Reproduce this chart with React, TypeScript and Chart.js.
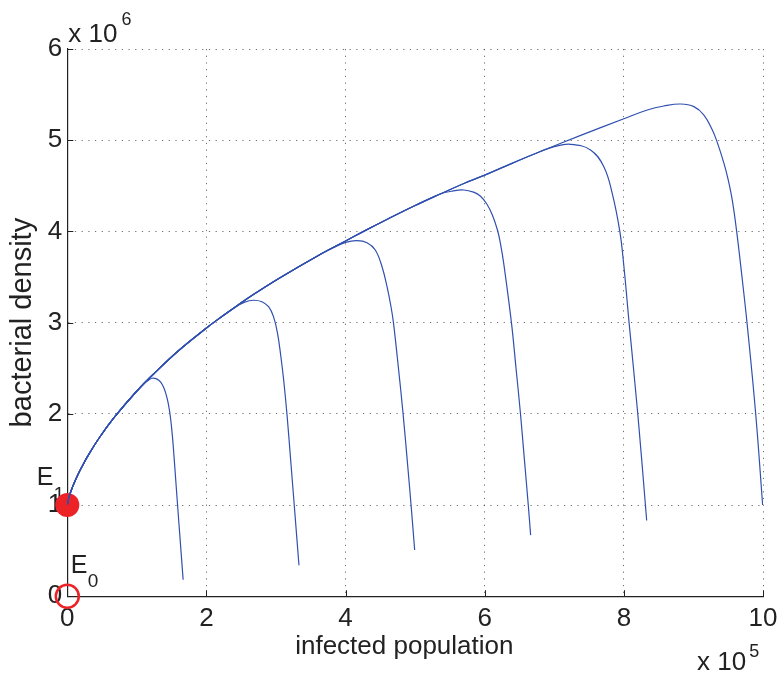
import React, { useEffect, useRef } from "react";
import { Chart, registerables } from "chart.js";

Chart.register(...registerables);

// ---- data (x in units of 1e5, y in units of 1e6) ----
const X_TICKS = [0, 2, 4, 6, 8, 10];
const Y_TICKS = [0, 1, 2, 3, 4, 5, 6];

// common rising branch shared by all trajectories
const ENV_X = [0, 0.01, 0.03, 0.06, 0.1, 0.15, 0.21, 0.3, 0.47, 0.68, 1.0, 1.24, 1.61, 2.0, 2.15, 2.4, 2.68, 3.04, 3.64, 4.0, 4.3, 4.6, 5.0, 5.36, 5.7, 6.0, 6.4, 6.8, 7.37];
const ENV_Y = [1.0, 1.043, 1.1, 1.167, 1.244, 1.33, 1.42, 1.544, 1.748, 1.965, 2.25, 2.437, 2.699, 2.94, 3.027, 3.164, 3.31, 3.484, 3.75, 3.895, 4.017, 4.134, 4.284, 4.41, 4.526, 4.617, 4.749, 4.876, 5.05];

// last shared x value for each trajectory before it turns away
const DEPART_X = [1.0, 2.4, 3.64, 5.36, 6.8, 7.37];

const C1_X = [1.1, 1.17, 1.22, 1.29, 1.345, 1.39, 1.425, 1.452, 1.47, 1.486, 1.5, 1.515, 1.537, 1.585, 1.625, 1.665];
const C1_Y = [2.33, 2.37, 2.39, 2.38, 2.345, 2.28, 2.2, 2.11, 2.03, 1.94, 1.84, 1.72, 1.5, 1.0, 0.59, 0.18];

const C2_X = [2.55, 2.676, 2.797, 2.893, 2.964, 3.022, 3.07, 3.11, 3.157, 3.21, 3.262, 3.33];
const C2_Y = [3.225, 3.245, 3.229, 3.174, 3.065, 2.882, 2.626, 2.37, 2.0, 1.5, 1.0, 0.34];

const C3_X = [3.85, 4.0, 4.164, 4.308, 4.427, 4.524, 4.596, 4.653, 4.688, 4.76, 4.826, 4.885, 4.941, 4.993];
const C3_Y = [3.83, 3.88, 3.898, 3.876, 3.796, 3.613, 3.394, 3.174, 3.0, 2.5, 2.005, 1.5, 1.003, 0.507];

const C4_X = [5.52, 5.698, 5.84, 5.94, 6.03, 6.11, 6.187, 6.23, 6.273, 6.384, 6.45, 6.514, 6.57, 6.626, 6.66];
const C4_Y = [4.44, 4.454, 4.43, 4.385, 4.3, 4.18, 4.004, 3.85, 3.65, 3.0, 2.5, 2.0, 1.5, 1.0, 0.67];

const C5_X = [7.0, 7.233, 7.521, 7.712, 7.833, 7.942, 8.0, 8.075, 8.2, 8.31, 8.328];
const C5_Y = [4.93, 4.955, 4.893, 4.71, 4.418, 4.0, 3.62, 3.0, 2.0, 1.0, 0.83];

const C6_X = [8.0, 8.337, 8.576, 8.816, 9.007, 9.151, 9.272, 9.334, 9.439, 9.5, 9.56, 9.622, 9.703, 9.77, 9.895, 9.995];
const C6_Y = [5.235, 5.331, 5.375, 5.397, 5.368, 5.276, 5.112, 4.995, 4.746, 4.565, 4.335, 3.997, 3.467, 3.0, 2.0, 1.0];

const TAILS_X = [C1_X, C2_X, C3_X, C4_X, C5_X, C6_X];
const TAILS_Y = [C1_Y, C2_Y, C3_Y, C4_Y, C5_Y, C6_Y];

const E1_POINT = { x: 0, y: 1 };
const E0_POINT = { x: 0, y: 0 };

// ---- styles ----
const FONT = '"Liberation Sans", Arial, Helvetica, sans-serif';
const TEXT = "#222222";
const LINE_BLUE = "#3050b0";
const RED = "#ec2227";

function buildCurve(i: number) {
  const pts: { x: number; y: number }[] = [];
  for (let k = 0; k < ENV_X.length; k++) {
    if (ENV_X[k] <= DEPART_X[i]) pts.push({ x: ENV_X[k], y: ENV_Y[k] });
  }
  const tx = TAILS_X[i];
  const ty = TAILS_Y[i];
  for (let k = 0; k < tx.length; k++) pts.push({ x: tx[k], y: ty[k] });
  return pts;
}

const annotPlugin = {
  id: "annot",
  beforeDatasetsDraw(chart: any) {
    const ctx = chart.ctx as CanvasRenderingContext2D;
    const { left, top, right, bottom } = chart.chartArea;
    const xs = chart.scales.x;
    const ys = chart.scales.y;
    ctx.save();
    // inward tick marks
    ctx.strokeStyle = TEXT;
    ctx.lineWidth = 1;
    ctx.beginPath();
    for (const v of X_TICKS) {
      const px = Math.round(xs.getPixelForValue(v)) + 0.5;
      ctx.moveTo(px, bottom);
      ctx.lineTo(px, bottom - 6);
    }
    for (const v of Y_TICKS) {
      const py = Math.round(ys.getPixelForValue(v)) + 0.5;
      ctx.moveTo(left, py);
      ctx.lineTo(left + 6, py);
    }
    ctx.stroke();

    ctx.fillStyle = TEXT;
    ctx.textAlign = "left";
    ctx.textBaseline = "alphabetic";

    // exponent labels
    ctx.font = `26px ${FONT}`;
    ctx.fillText("x 10", left + 1, top - 7);
    let w = ctx.measureText("x 10").width;
    ctx.font = `18px ${FONT}`;
    ctx.fillText("6", left + 1 + w + 4, top - 24);

    ctx.font = `26px ${FONT}`;
    ctx.fillText("x 10", right - 66, bottom + 74);
    w = ctx.measureText("x 10").width;
    ctx.font = `18px ${FONT}`;
    ctx.fillText("5", right - 66 + w + 3, bottom + 61);

    // equilibrium labels
    const e1x = xs.getPixelForValue(E1_POINT.x);
    const e1y = ys.getPixelForValue(E1_POINT.y);
    ctx.font = `25px ${FONT}`;
    ctx.fillText("E", e1x - 30.6, e1y - 20);
    const ew = ctx.measureText("E").width;
    ctx.font = `19px ${FONT}`;
    ctx.fillText("1", e1x - 30.6 + ew + 0.5, e1y - 5);

    const e0x = xs.getPixelForValue(E0_POINT.x);
    const e0y = ys.getPixelForValue(E0_POINT.y);
    ctx.font = `25px ${FONT}`;
    ctx.fillText("E", e0x + 3.4, e0y - 23);
    ctx.font = `19px ${FONT}`;
    ctx.fillText("0", e0x + 3.4 + ew + 0.5, e0y - 9);
    ctx.restore();
  },
};

export default function App() {
  const ref = useRef<HTMLCanvasElement | null>(null);

  useEffect(() => {
    if (!ref.current) return;
    Chart.defaults.font.family = FONT;
    const curves = [0, 1, 2, 3, 4, 5].map((i) => ({
      data: buildCurve(i),
      showLine: true,
      borderColor: LINE_BLUE,
      borderWidth: 1.2,
      pointRadius: 0,
      pointHoverRadius: 0,
      tension: 0.4,
      fill: false,
    }));
    const chart = new Chart(ref.current, {
      type: "scatter",
      data: {
        datasets: [
          ...curves,
          {
            data: [E1_POINT],
            pointRadius: 12,
            pointBackgroundColor: RED,
            pointBorderColor: RED,
            pointBorderWidth: 0,
            clip: false,
          } as any,
          {
            data: [E0_POINT],
            pointRadius: 11.5,
            pointBackgroundColor: "rgba(0,0,0,0)",
            pointBorderColor: RED,
            pointBorderWidth: 2.5,
            clip: false,
          } as any,
        ],
      },
      options: {
        animation: false,
        responsive: false,
        devicePixelRatio: 1,
        events: [],
        layout: { padding: { left: 0, top: 49, right: 15, bottom: 0 } },
        plugins: { legend: { display: false }, tooltip: { enabled: false } },
        scales: {
          x: {
            type: "linear",
            min: 0,
            max: 10,
            afterFit: (s: any) => {
              s.height = 76.8;
              s.paddingLeft = 0;
              s.paddingRight = 0;
            },
            ticks: {
              stepSize: 2,
              autoSkip: false,
              color: TEXT,
              padding: 7,
              font: { size: 26, family: FONT },
            },
            grid: {
              drawTicks: false,
              color: "rgba(60,60,60,0.75)",
              lineWidth: 1,
            },
            border: { display: true, color: TEXT, width: 1.2, dash: [1.2, 5.5] },
            title: {
              display: true,
              text: "infected population   ",
              color: TEXT,
              font: { size: 26, family: FONT },
              padding: { top: 0, bottom: 11 },
            },
          },
          y: {
            type: "linear",
            min: 0,
            max: 6,
            afterFit: (s: any) => {
              s.width = 67.3;
              s.paddingTop = 0;
              s.paddingBottom = 0;
            },
            ticks: {
              stepSize: 1,
              autoSkip: false,
              color: TEXT,
              padding: 5,
              font: { size: 26, family: FONT },
            },
            grid: {
              drawTicks: false,
              color: "rgba(60,60,60,0.75)",
              lineWidth: 1,
            },
            border: { display: true, color: TEXT, width: 1.2, dash: [1.2, 5.5] },
            title: {
              display: true,
              text: "bacterial density",
              color: TEXT,
              font: { size: 29, family: FONT },
              padding: { top: 6, bottom: 0 },
            },
          },
        },
      },
      plugins: [annotPlugin],
    });
    return () => chart.destroy();
  }, []);

  return (
    <div style={{ position: "fixed", left: 0, top: 0, width: 778, height: 673, background: "#fff" }}>
      <canvas ref={ref} width={778} height={673} style={{ display: "block" }} />
    </div>
  );
}
